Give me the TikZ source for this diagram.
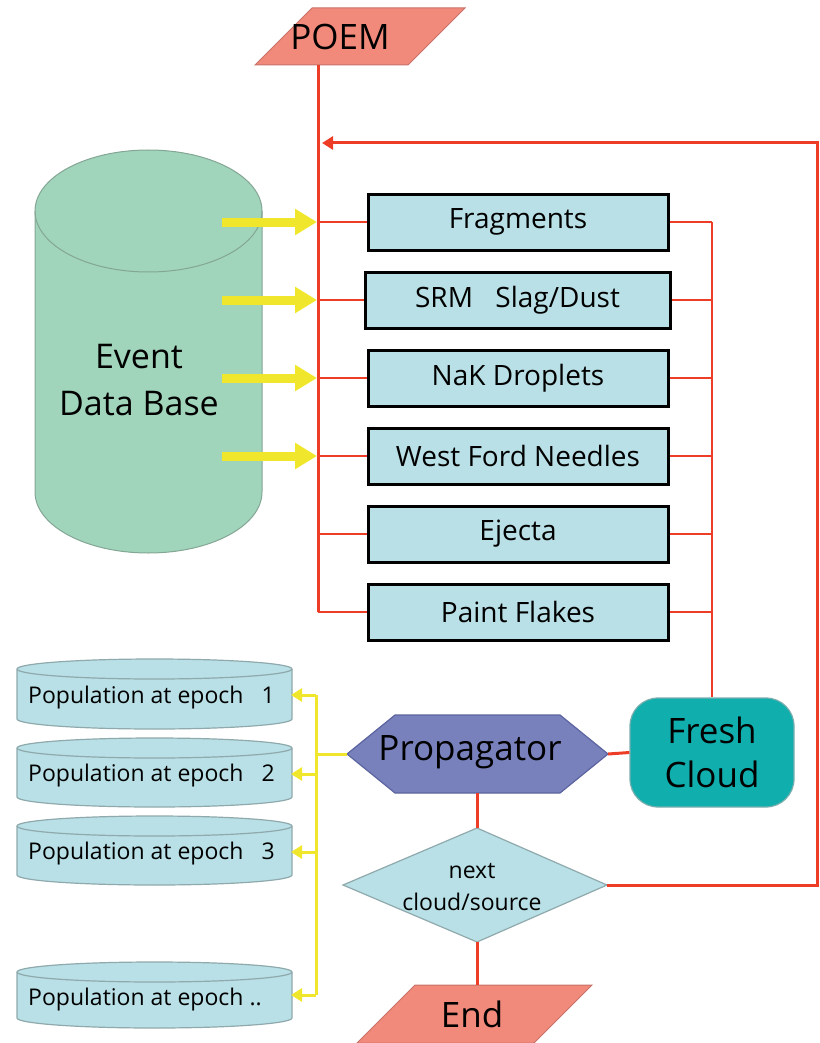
\documentclass[tikz,border=0pt]{standalone}
\usepackage{fontspec}
\setmainfont{Open Sans}
\usetikzlibrary{arrows.meta}

\definecolor{flowred}{HTML}{EE3D27}
\definecolor{boxblue}{HTML}{B8E0E6}
\definecolor{dbgreen}{HTML}{A0D4BB}
\definecolor{dbedge}{HTML}{84A694}
\definecolor{salmon}{HTML}{F28A7C}
\definecolor{salmonedge}{HTML}{C77168}
\definecolor{propblue}{HTML}{7981BD}
\definecolor{propedge}{HTML}{5C649F}
\definecolor{cloudteal}{HTML}{10AFAE}
\definecolor{tealedge}{HTML}{7AAEAE}
\definecolor{greyedge}{HTML}{8FA9AC}
\definecolor{arrowyellow}{HTML}{F0E62B}

% cylinder: #1 centre x, #2 top, #3 bottom, #4 x radius, #5 y radius, #6 style
\newcommand\drumshape[6]{%
  \path[#6] ({#1-#4},{#2+#5}) -- ({#1-#4},{#3-#5})
    .. controls ({#1-#4},{#3-#5+0.552*#5}) and ({#1-0.552*#4},{#3}) .. ({#1},{#3})
    .. controls ({#1+0.552*#4},{#3}) and ({#1+#4},{#3-#5+0.552*#5}) .. ({#1+#4},{#3-#5})
    -- ({#1+#4},{#2+#5})
    .. controls ({#1+#4},{#2+#5-0.552*#5}) and ({#1+0.552*#4},{#2}) .. ({#1},{#2})
    .. controls ({#1-0.552*#4},{#2}) and ({#1-#4},{#2+#5-0.552*#5}) .. cycle;
  \path[#6, fill=none] ({#1-#4},{#2+#5})
    .. controls ({#1-#4},{#2+#5+0.552*#5}) and ({#1-0.552*#4},{#2+2*#5}) .. ({#1},{#2+2*#5})
    .. controls ({#1+0.552*#4},{#2+2*#5}) and ({#1+#4},{#2+#5+0.552*#5}) .. ({#1+#4},{#2+#5});
}

\tikzset{
  srcbox/.style={draw=black, line width=3pt, fill=boxblue, minimum width=300pt,
    minimum height=56pt, inner sep=0pt, font=\fontsize{28}{32}\selectfont},
  redline/.style={draw=flowred, line width=3pt},
  branchline/.style={draw=flowred, line width=2.5pt},
  yelline/.style={draw=arrowyellow, line width=3pt},
  yelarrow/.style={yelline, -{Triangle[width=13pt,length=11pt]}},
  fatarrow/.style={draw=arrowyellow, line width=9pt, -{Triangle[width=25pt,length=22pt]}},
  dbstyle/.style={fill=dbgreen, draw=dbedge, line width=1pt},
  popstyle/.style={fill=boxblue, draw=greyedge, line width=1.2pt},
  poptext/.style={anchor=west, inner sep=0pt, font=\fontsize{23}{27}\selectfont},
  termstyle/.style={fill=salmon, draw=salmonedge, line width=1pt},
  bigtext/.style={inner sep=0pt, font=\fontsize{35}{42}\selectfont},
}

\begin{document}
\begin{tikzpicture}[x=1pt,y=-1pt]
\useasboundingbox (0,0) rectangle (819,1043);

% ---------- start terminal ----------
\path[termstyle] (255,65) -- (408,65) -- (465,8) -- (312,8) -- cycle;
\node[bigtext] (poem) at (340,37) {POEM};
\coordinate (trunktop) at (318,65);
\coordinate (trunkbot) at (318,612);
\coordinate (loopin) at (322,143);

% ---------- event data base ----------
\drumshape{148.5}{150}{553}{113.5}{61}{dbstyle}
\node[bigtext, align=center, font=\fontsize{34}{47}\selectfont] (db) at (139,380) {Event\\Data Base};

% ---------- debris sources ----------
\node[srcbox] (frag)  at (518,222) {Fragments};
\node[srcbox, minimum width=305pt] (srm) at (517.5,300) {SRM\hspace{0.8em}Slag/Dust};
\node[srcbox] (nak)   at (518,378) {NaK Droplets};
\node[srcbox] (wfn)   at (518,456) {West Ford Needles};
\node[srcbox] (eje)   at (518,534) {Ejecta};
\node[srcbox] (paint) at (518,612) {Paint Flakes};

% ---------- fresh cloud ----------
\node[fill=cloudteal, draw=tealedge, line width=1.2pt, rounded corners=28pt,
      minimum width=164pt, minimum height=109pt, align=center,
      font=\fontsize{35}{44}\selectfont] (fresh) at (712,752.5) {Fresh\\Cloud};

% ---------- propagator ----------
\coordinate (propL) at (347,754);
\coordinate (propR) at (608,754);
\coordinate (propB) at (477,793);
\path[fill=propblue, draw=propedge, line width=1.2pt]
  (propL) -- (395,715) -- (560,715) -- (propR) -- (560,793) -- (395,793) -- cycle;
\node[bigtext, font=\fontsize{35}{42}\selectfont] (prop) at (470,752) {Propagator};

% ---------- decision ----------
\coordinate (dT) at (477,828);
\coordinate (dR) at (607,885);
\coordinate (dB) at (477,942);
\path[fill=boxblue, draw=greyedge, line width=1.2pt]
  (343,885) -- (dT) -- (dR) -- (dB) -- cycle;
\node[align=center, inner sep=0pt, font=\fontsize{23}{32}\selectfont] (dec) at (472,887) {next\\cloud/source};

% ---------- end terminal ----------
\path[termstyle] (415,985) -- (592,985) -- (534,1043) -- (357,1043) -- cycle;
\node[bigtext] (endn) at (472,1014) {End};
\coordinate (endtop) at (477,985);

% ---------- populations ----------
\drumshape{154.5}{659}{729}{137.5}{10}{popstyle}
\drumshape{154.5}{738}{807}{137.5}{10}{popstyle}
\drumshape{154.5}{816}{885}{137.5}{10}{popstyle}
\drumshape{154.5}{962}{1028}{137.5}{10}{popstyle}
\node[poptext] (pop1) at (28,698) {Population at epoch\hspace{18pt}1};
\node[poptext] (pop2) at (28,776) {Population at epoch\hspace{18pt}2};
\node[poptext] (pop3) at (28,854) {Population at epoch\hspace{18pt}3};
\node[poptext] (pop4) at (28,1000) {Population at epoch ..};
\coordinate (pe1) at (291,695);
\coordinate (pe2) at (291,774);
\coordinate (pe3) at (291,852);
\coordinate (pe4) at (291,995);
\coordinate (ybtop) at (316,695);
\coordinate (ybbot) at (316,995);

% ---------- red flow lines ----------
\draw[redline] (trunktop) -- (trunkbot);
\foreach \b in {frag,srm,nak,wfn,eje,paint}{
  \draw[branchline] (trunktop |- \b.west) -- (\b.west);
  \draw[branchline] (\b.east) -- (\b.east -| fresh.north);
}
\draw[branchline] (frag.east -| fresh.north) -- (fresh.north);
\draw[redline] (propR) -- (fresh.west);
\draw[redline] (propB) -- (dT);
\draw[redline] (dB) -- (endtop);
\draw[redline, -{Triangle[width=13pt,length=11pt]}] (dR) -| (817,143) -- (loopin);

% ---------- event feeds ----------
\foreach \b in {frag,srm,nak,wfn}{
  \draw[fatarrow] (222,0 |- \b.west) -- ([xshift=-1pt]trunktop |- \b.west);
}

% ---------- population outputs ----------
\draw[yelline] (propL) -- (propL -| ybtop);
\draw[yelline] (ybtop) -- (ybbot);
\foreach \i in {1,2,3,4}{
  \draw[yelarrow] (ybtop |- pe\i) -- (pe\i);
}
\end{tikzpicture}
\end{document}
